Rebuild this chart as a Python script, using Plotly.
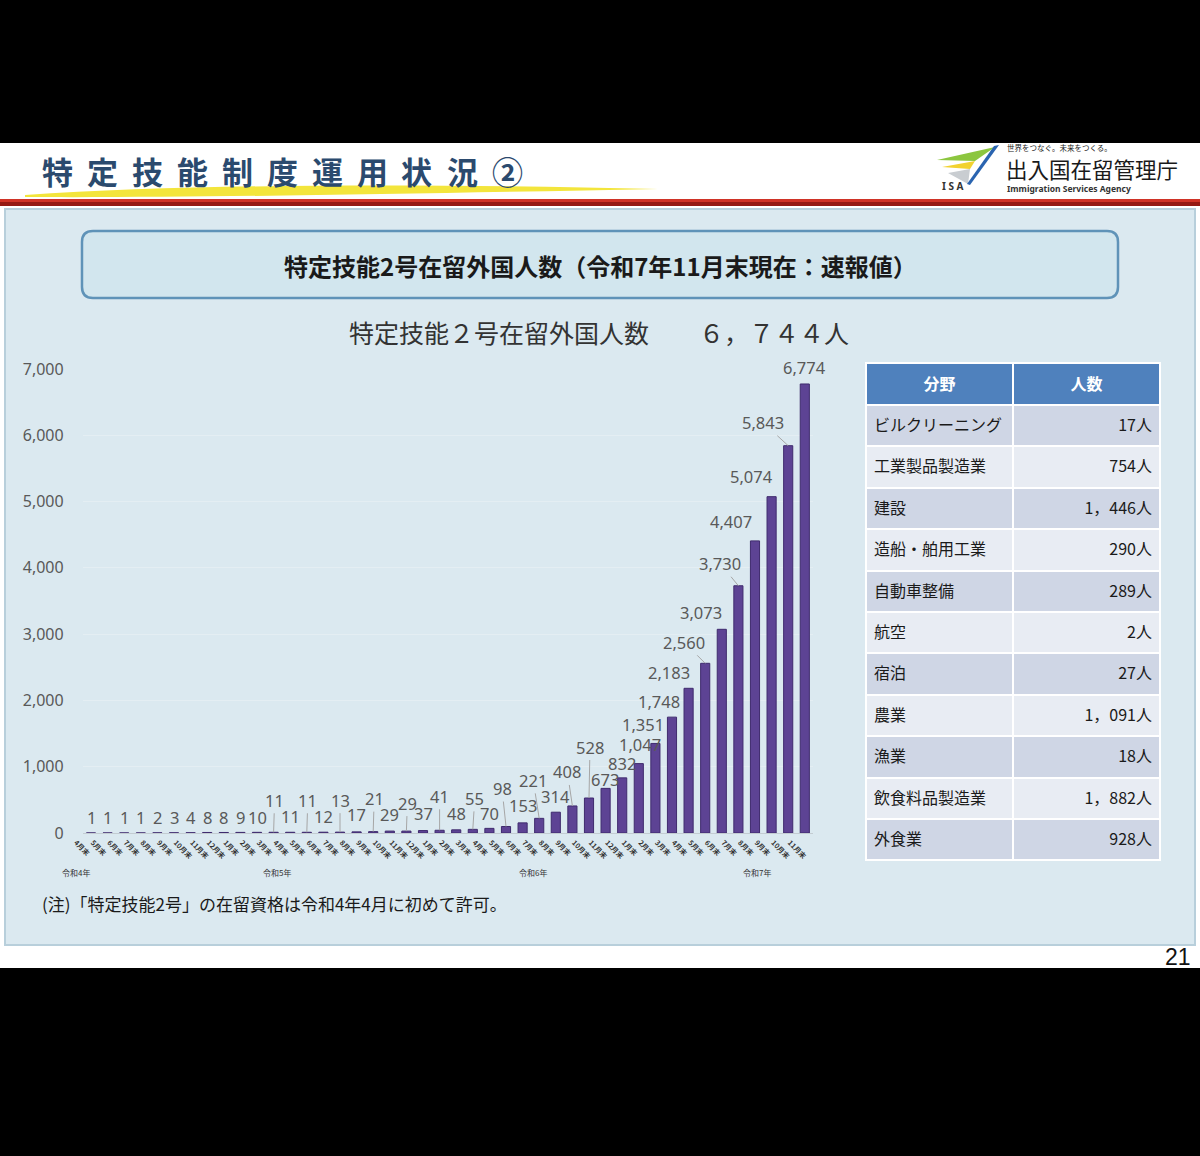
import plotly.graph_objects as go

W, H = 1200, 1156
JP = "Noto Sans CJK JP"
NUM = "Noto Sans"

# ---------------- data ----------------
month_labels = ["4月末", "5月末", "6月末", "7月末", "8月末", "9月末", "10月末", "11月末", "12月末",
                "1月末", "2月末", "3月末", "4月末", "5月末", "6月末", "7月末", "8月末", "9月末", "10月末", "11月末", "12月末",
                "1月末", "2月末", "3月末", "4月末", "5月末", "6月末", "7月末", "8月末", "9月末", "10月末", "11月末", "12月末",
                "1月末", "2月末", "3月末", "4月末", "5月末", "6月末", "7月末", "8月末", "9月末", "10月末", "11月末"]
bar_years = ["令和4年"] * 9 + ["令和5年"] * 12 + ["令和6年"] * 12 + ["令和7年"] * 11
values = [1, 1, 1, 1, 2, 3, 4, 8, 8, 9, 10, 11, 11, 11, 12, 13, 17, 21, 29, 29, 37, 41, 48, 55, 70, 98,
          153, 221, 314, 408, 528, 673, 832, 1047, 1351, 1748, 2183, 2560, 3073, 3730, 4407, 5074, 5843, 6774]
categories = [y + m for y, m in zip(bar_years, month_labels)]
year_labels = ["令和4年", "令和5年", "令和6年", "令和7年"]
y_ticks = [0, 1000, 2000, 3000, 4000, 5000, 6000, 7000]

fields = ["ビルクリーニング", "工業製品製造業", "建設", "造船・舶用工業", "自動車整備", "航空",
          "宿泊", "農業", "漁業", "飲食料品製造業", "外食業"]
field_counts = [17, 754, 1446, 290, 289, 2, 27, 1091, 18, 1882, 928]

# ---------------- styles (label offsets in px) ----------------
label_ax = [0] * 11 + [1, 0, 1, 0, 0, 0, 1, 0, 1, 0, 0, 0, 2, 0, -4, 0, -6, 0, -5, 1, -1, 0, 1,
                       -12, -13, -20, -21, -21, -18, -24, -20, -25, 0]
label_ay = [-15] * 11 + [-32, -16, -32, -16, -32, -17, -33, -17, -28, -17, -34, -16, -31, -15, -38, -17,
                         -38, -16, -34, -51, -9, -14, -19, -19, -16, -16, -21, -17, -22, -19, -20, -23, -16]
leader = [False] * 11 + [True, False, True, False, True, False, True, False, True, False, True, False,
                         True, False, True, False, True, False, True, True, False, False, False,
                         False, False, False, True, False, True, False, False, True, False]
year_anchor = [0, 11, 27, 40]        # category index each year label hangs from
year_shift = [-15, 3, -6, 2]         # px shift from that category


def px(x):
    return x / W


def py(y):
    return 1 - y / H


def pt(x, y):
    return f"{px(x):.5f},{py(y):.5f}"


def rect(x0, y0, x1, y1, fill, line=None, lw=0):
    return dict(type="rect", xref="paper", yref="paper", x0=px(x0), x1=px(x1), y0=py(y1), y1=py(y0),
                fillcolor=fill, line=dict(color=line or fill, width=lw), layer="below")


def poly(points, fill):
    d = "M " + " L ".join(pt(x, y) for x, y in points) + " Z"
    return dict(type="path", xref="paper", yref="paper", path=d, fillcolor=fill,
                line=dict(width=0), layer="below")


def rounded(x0, y0, x1, y1, r, fill, line, lw):
    d = (f"M {pt(x0 + r, y0)} L {pt(x1 - r, y0)} Q {pt(x1, y0)} {pt(x1, y0 + r)} "
         f"L {pt(x1, y1 - r)} Q {pt(x1, y1)} {pt(x1 - r, y1)} L {pt(x0 + r, y1)} "
         f"Q {pt(x0, y1)} {pt(x0, y1 - r)} L {pt(x0, y0 + r)} Q {pt(x0, y0)} {pt(x0 + r, y0)} Z")
    return dict(type="path", xref="paper", yref="paper", path=d, fillcolor=fill,
                line=dict(color=line, width=lw), layer="below")


fig = go.Figure()

fig.add_trace(go.Bar(
    x=categories, y=values,
    marker=dict(color="#5d4394", line=dict(color="#3f2b6e", width=1)),
    hoverinfo="x+y",
))

# table: background layer + text layer (text layer shifted down to centre text in rows)
row_colors = ["#cfd6e5" if i % 2 == 0 else "#e8ecf3" for i in range(len(fields))]
count_text = [f"{c:,}".replace(",", "，") + "人" for c in field_counts]
blank = [""] * len(fields)
TBL_X = [px(866), px(1160)]
fig.add_trace(go.Table(
    domain=dict(x=TBL_X, y=[py(866), py(363)]),
    columnwidth=[1, 1],
    header=dict(values=["<b>分野</b>", "<b>人数</b>"], fill_color="#4f81bd",
                font=dict(color="white", size=16, family=JP), align="center", height=42,
                line=dict(color="white", width=2)),
    cells=dict(values=[blank, blank], fill_color=[row_colors, row_colors],
               font=dict(color="#1a1a1a", size=16, family=JP), align=["left", "right"],
               height=41.4, line=dict(color="white", width=2)),
))
fig.add_trace(go.Table(
    domain=dict(x=TBL_X, y=[py(872), py(363)]),
    columnwidth=[1, 1],
    header=dict(values=["", ""], fill_color="rgba(0,0,0,0)", height=48,
                line=dict(color="rgba(0,0,0,0)", width=0)),
    cells=dict(values=[fields, count_text], fill_color="rgba(0,0,0,0)",
               font=dict(color="#1a1a1a", size=16, family=JP), align=["left", "right"],
               height=41.4, line=dict(color="rgba(0,0,0,0)", width=0)),
))

shapes = [
    rect(0, 143, 1200, 968, "white"),
    # yellow swoosh under the title
    dict(type="path", xref="paper", yref="paper",
         path=f"M {pt(25, 195)} C {pt(200, 183)} {pt(450, 184)} {pt(658, 189)} "
              f"C {pt(450, 193)} {pt(200, 198)} {pt(25, 197)} Z",
         fillcolor="#f3e53c", line=dict(width=0), layer="below"),
    rect(0, 199, 1200, 202, "#cf3327"),
    rect(0, 202, 1200, 206, "#951a14"),
    # panel
    rect(5, 209, 1195, 945, "#dbe9f0", "#b8cfdb", 2),
    rounded(82, 231, 1118, 298, 11, "#d2e6ee", "#5f93b8", 2.5),
    # logo
    poly([(937, 160), (995, 147), (975, 161)], "#8cc63f"),
    poly([(942, 167), (975, 161), (970, 169)], "#f2d230"),
    poly([(948, 173), (970, 169), (968, 184)], "#c9cdd1"),
    poly([(994, 146), (999, 145), (970, 185), (967, 184)], "#2a64b0"),
]

annotations = []
# header title with letter spacing
title_chars = "特定技能制度運用状況②"
for k, ch in enumerate(title_chars):
    annotations.append(dict(x=px(57 + k * 45), y=py(170), xref="paper", yref="paper", text=f"<b>{ch}</b>",
                            showarrow=False, font=dict(family=JP, size=31, color="#2b4a6e"),
                            xanchor="center", yanchor="middle"))
annotations += [
    dict(x=px(1005), y=py(148), xref="paper", yref="paper", text="世界をつなぐ。未来をつくる。",
         showarrow=False, font=dict(family=JP, size=7.5, color="#222"), xanchor="left", yanchor="middle"),
    dict(x=px(1004), y=py(168), xref="paper", yref="paper", text="出入国在留管理庁",
         showarrow=False, font=dict(family=JP, size=21.5, color="#1a1a1a"), xanchor="left", yanchor="middle"),
    dict(x=px(1005), y=py(188), xref="paper", yref="paper", text="<b>Immigration Services Agency</b>",
         showarrow=False, font=dict(family=NUM, size=8.5, color="#333"), xanchor="left", yanchor="middle"),
    dict(x=px(953), y=py(186), xref="paper", yref="paper", text="<b>I S A</b>",
         showarrow=False, font=dict(family=NUM, size=10, color="#333"), xanchor="center", yanchor="middle"),
    dict(x=px(600), y=py(265), xref="paper", yref="paper",
         text="<b>特定技能2号在留外国人数（令和7年11月末現在：速報値）</b>",
         showarrow=False, font=dict(family=JP, size=24, color="#1a1a1a"), xanchor="center", yanchor="middle"),
    dict(x=px(599), y=py(332), xref="paper", yref="paper",
         text="特定技能２号在留外国人数　　６，７４４人",
         showarrow=False, font=dict(family=JP, size=25, color="#333"), xanchor="center", yanchor="middle"),
    dict(x=px(40), y=py(903), xref="paper", yref="paper",
         text="(注)「特定技能2号」の在留資格は令和4年4月に初めて許可。",
         showarrow=False, font=dict(family=JP, size=17, color="#1a1a1a"), xanchor="left", yanchor="middle"),
    dict(x=px(1193), y=py(957), xref="paper", yref="paper", text="21",
         showarrow=False, font=dict(family="Liberation Sans", size=23, color="#111"),
         xanchor="right", yanchor="middle"),
]
for name, idx, sh in zip(year_labels, year_anchor, year_shift):
    annotations.append(dict(x=categories[idx], y=py(872), xref="x", yref="paper", text=name, showarrow=False,
                            xshift=sh, font=dict(family=JP, size=8, color="#333"),
                            xanchor="center", yanchor="middle"))
# data labels
for cat, v, ax, ay, ld in zip(categories, values, label_ax, label_ay, leader):
    annotations.append(dict(x=cat, y=v, xref="x", yref="y", text=f"{v:,}", showarrow=True,
                            ax=ax, ay=ay, arrowhead=0, arrowwidth=1,
                            arrowcolor="#a6a6a6" if ld else "rgba(0,0,0,0)",
                            font=dict(family=NUM, size=16.5, color="#595959")))

fig.update_layout(
    width=W, height=H, margin=dict(l=0, r=0, t=0, b=0, autoexpand=False),
    paper_bgcolor="black", plot_bgcolor="rgba(0,0,0,0)",
    showlegend=False, bargap=0.45,
    shapes=shapes, annotations=annotations,
    xaxis=dict(domain=[px(82.7), px(813.1)], type="category", range=[-0.5, len(values) - 0.5],
               autorange=False, automargin=False,
               tickvals=categories, ticktext=month_labels,
               tickangle=45, ticklabelshift=-15, ticklabelstandoff=2,
               tickfont=dict(family=JP, size=7, color="#333", weight="bold"),
               showline=True, linecolor="#c3ccd2", linewidth=1, ticks="", showgrid=False),
    yaxis=dict(domain=[py(833), py(369)], range=[0, 7000], autorange=False, automargin=False,
               tickvals=y_ticks, tickformat=",",
               tickfont=dict(family=NUM, size=16, color="#595959"), ticks="", ticklabelstandoff=18,
               showgrid=True, gridcolor="#e4eef3", zeroline=False, showline=False),
)

fig.write_html("out.html", config={"displayModeBar": False},
               post_script="document.body.style.margin='0';document.body.style.background='black';")
